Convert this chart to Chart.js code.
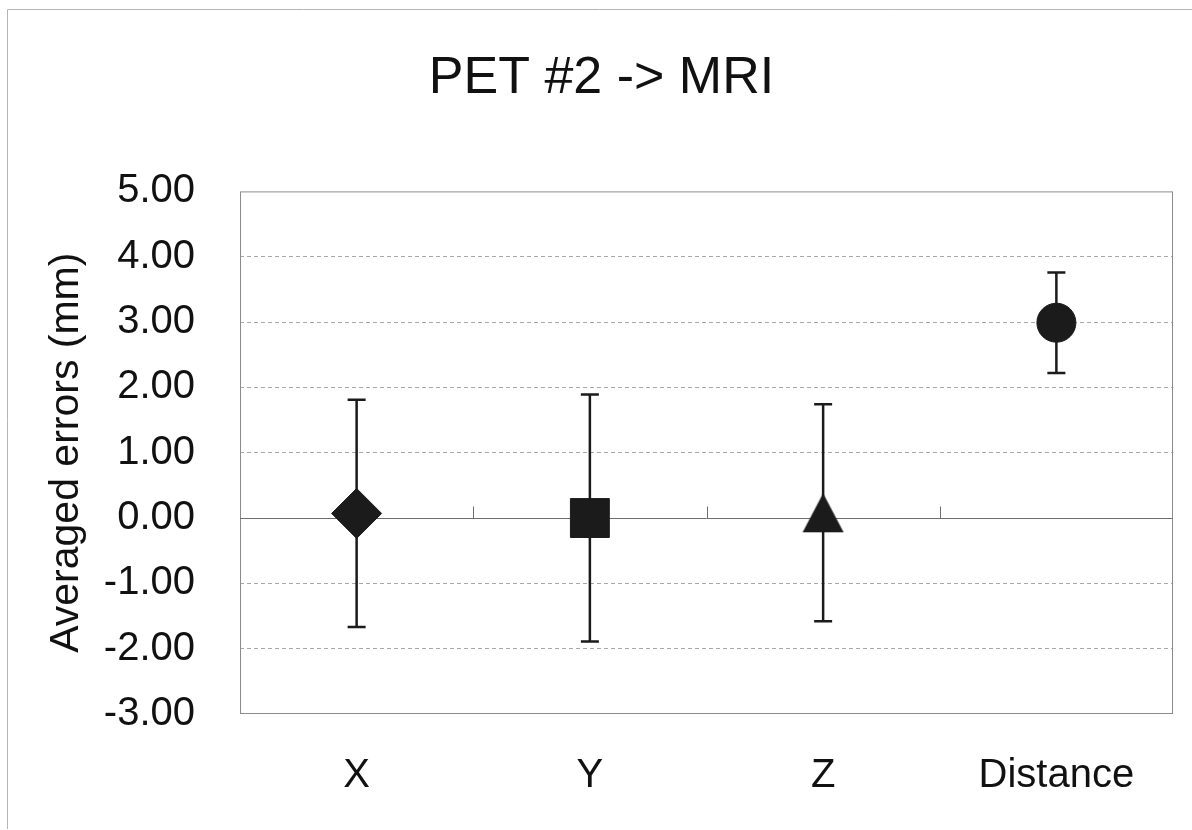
<!DOCTYPE html>
<html>
<head>
<meta charset="utf-8">
<title>PET #2 -> MRI</title>
<script src="https://cdn.jsdelivr.net/npm/chart.js@4/dist/chart.umd.min.js"></script>
<style>
  html, body { margin: 0; padding: 0; background: #fff; }
  #wrap { width: 1192px; height: 830px; }
</style>
</head>
<body>
<div id="wrap"><canvas id="errChart" width="1192" height="830"></canvas></div>
<script>
// chart values
const categories = ["X", "Y", "Z", "Distance"];
const means = [0.07, 0.00, 0.08, 2.99];
const errors = [1.74, 1.89, 1.66, 0.77];
const yTicks = [-3, -2, -1, 0, 1, 2, 3, 4, 5];

const FONT = "'Liberation Sans', Arial, sans-serif";
const INK = "#1b1b1b";

// Excel style triangle, centred on its bounding box
function triangleMarker(w, h) {
  const c = document.createElement("canvas");
  c.width = w + 2;
  c.height = h + 2;
  const g = c.getContext("2d");
  g.fillStyle = INK;
  g.beginPath();
  g.moveTo(c.width / 2, 1);
  g.lineTo(c.width - 1, c.height - 1);
  g.lineTo(1, c.height - 1);
  g.closePath();
  g.fill();
  return c;
}

// frame, zero line, small category ticks and error bars
const excelBits = {
  id: "excelBits",
  beforeDatasetsDraw(chart) {
    const { ctx, chartArea: a, scales } = chart;
    const x = scales.x, y = scales.y;
    ctx.save();
    // outer picture edges (top and left only)
    ctx.strokeStyle = "#b5b5b5";
    ctx.lineWidth = 1;
    ctx.beginPath();
    ctx.moveTo(7.5, 829);
    ctx.lineTo(7.5, 9.5);
    ctx.lineTo(1192, 9.5);
    ctx.stroke();
    // plot area frame
    ctx.strokeStyle = "#8c8c8c";
    ctx.strokeRect(a.left + 0.5, a.top + 0.5, a.right - a.left - 1, a.bottom - a.top - 1);
    // zero line with category tick marks
    const y0 = Math.round(y.getPixelForValue(0)) + 0.5;
    ctx.strokeStyle = "#6e6e6e";
    ctx.beginPath();
    ctx.moveTo(a.left, y0);
    ctx.lineTo(a.right, y0);
    for (let i = 1; i < categories.length; i++) {
      const xb = Math.round((x.getPixelForValue(i - 1) + x.getPixelForValue(i)) / 2) + 0.5;
      ctx.moveTo(xb, y0);
      ctx.lineTo(xb, y0 - 12);
    }
    ctx.stroke();
    // error bars
    ctx.strokeStyle = INK;
    ctx.lineWidth = 2.5;
    means.forEach((m, i) => {
      const px = x.getPixelForValue(i);
      const top = y.getPixelForValue(m + errors[i]);
      const bot = y.getPixelForValue(m - errors[i]);
      ctx.beginPath();
      ctx.moveTo(px, top);
      ctx.lineTo(px, bot);
      ctx.moveTo(px - 9, top);
      ctx.lineTo(px + 9, top);
      ctx.moveTo(px - 9, bot);
      ctx.lineTo(px + 9, bot);
      ctx.stroke();
    });
    ctx.restore();
  }
};

document.addEventListener("DOMContentLoaded", () => {
  const ctx = document.getElementById("errChart").getContext("2d");
  new Chart(ctx, {
    type: "line",
    data: {
      labels: categories,
      datasets: [
        {
          label: "Averaged errors",
          data: means,
          showLine: false,
          pointStyle: ["rectRot", "rect", triangleMarker(41, 39), "circle"],
          pointRadius: [25, 27.5, 20, 19.5],
          pointHoverRadius: [25, 27.5, 20, 19.5],
          pointBackgroundColor: INK,
          pointBorderColor: INK,
          pointBorderWidth: 1,
        },
      ],
    },
    options: {
      responsive: false,
      animation: false,
      layout: { autoPadding: false, padding: { left: 30, right: 19, top: 0, bottom: 0 } },
      plugins: {
        legend: { display: false },
        tooltip: { enabled: false },
        title: {
          display: true,
          text: "PET #2 -> MRI",
          color: "#111",
          font: { family: FONT, size: 52, weight: "normal" },
          padding: { top: 47, bottom: 82 },
        },
      },
      scales: {
        x: {
          type: "category",
          offset: true,
          grid: { display: false, drawTicks: false },
          border: { display: false },
          ticks: {
            color: "#111",
            font: { family: FONT, size: 40 },
            padding: 38,
            maxRotation: 0,
            autoSkip: false,
          },
          afterFit(scale) {
            scale.height = 116;
            scale.paddingLeft = 0;
            scale.paddingRight = 0;
          },
        },
        y: {
          min: -3,
          max: 5,
          afterBuildTicks(scale) {
            scale.ticks = yTicks.map(v => ({ value: v }));
          },
          grid: {
            color: (c) => (c.tick && c.tick.value === 0) || c.index === 0 || c.index === yTicks.length - 1 ? "rgba(0,0,0,0)" : "#a8a8a8",
            lineWidth: 1,
            drawTicks: false,
          },
          border: { display: false, dash: [4, 3] },
          ticks: {
            color: "#111",
            font: { family: FONT, size: 40 },
            padding: 45,
            callback: (v) => Number(v).toFixed(2),
          },
          title: {
            display: true,
            text: "Averaged errors (mm)",
            color: "#111",
            font: { family: FONT, size: 41 },
            padding: { top: 12, bottom: 0 },
          },
          afterFit(scale) { scale.width = 210; },
        },
      },
    },
    plugins: [excelBits],
  });
});
</script>
</body>
</html>
